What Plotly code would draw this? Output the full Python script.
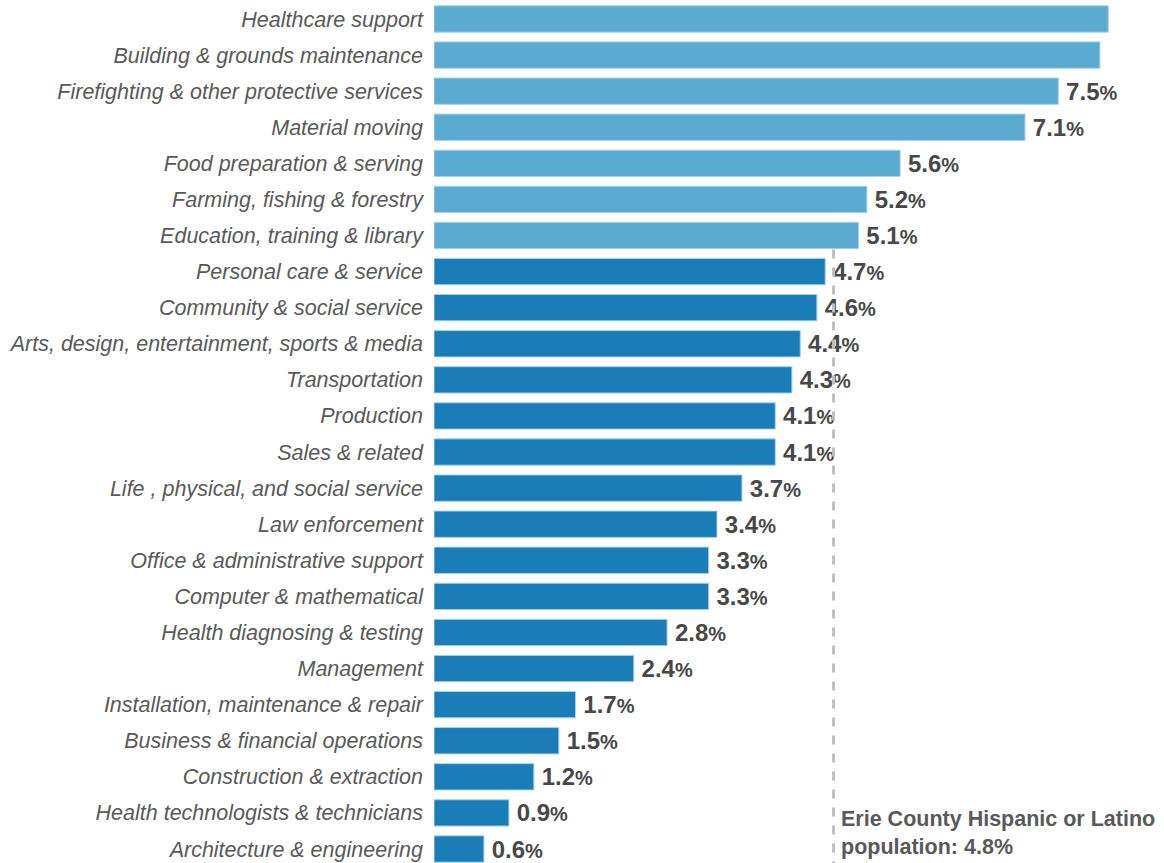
import plotly.graph_objects as go

categories = [
    "Healthcare support", "Building & grounds maintenance",
    "Firefighting & other protective services", "Material moving",
    "Food preparation & serving", "Farming, fishing & forestry",
    "Education, training & library", "Personal care & service",
    "Community & social service", "Arts, design, entertainment, sports & media",
    "Transportation", "Production", "Sales & related",
    "Life , physical, and social service", "Law enforcement",
    "Office & administrative support", "Computer & mathematical",
    "Health diagnosing & testing", "Management",
    "Installation, maintenance & repair", "Business & financial operations",
    "Construction & extraction", "Health technologists & technicians",
    "Architecture & engineering",
]
values = [8.1, 8.0, 7.5, 7.1, 5.6, 5.2, 5.1, 4.7, 4.6, 4.4, 4.3, 4.1, 4.1,
          3.7, 3.4, 3.3, 3.3, 2.8, 2.4, 1.7, 1.5, 1.2, 0.9, 0.6]
show_label = [False, False] + [True] * 22
county_share = 4.8

LIGHT = "#5BAAD1"
DARK = "#1A7DB8"
colors = [LIGHT if v > county_share else DARK for v in values]
labels = [
    (f"\u2009<b>{v:.1f}</b><span style='font-size:20px'><b>%</b></span>" if s else "")
    for v, s in zip(values, show_label)
]

fig = go.Figure(go.Bar(
    x=values, y=categories, orientation="h",
    marker=dict(color=colors, line=dict(color="#A8D2EA", width=1)),
    text=labels, textposition="outside", constraintext="none",
    textfont=dict(family="Liberation Sans, Arial", size=24, color="#484848"),
    cliponaxis=False, hoverinfo="skip",
))

fig.add_shape(type="line", xref="x", yref="y",
              x0=county_share, x1=county_share, y0=6.39, y1=23.6,
              line=dict(color="#BFBFBF", width=3, dash="dash"))

fig.add_annotation(
    x=county_share, y=22.55, xref="x", yref="y", xanchor="left", yanchor="middle",
    xshift=5, align="left", showarrow=False,
    text="<b>Erie County Hispanic or Latino<br>population: 4.8%</b>",
    font=dict(family="Liberation Sans, Arial", size=21.5, color="#595959"),
)

fig.update_layout(
    width=1164, height=863,
    margin=dict(l=434, r=0, t=0, b=0),
    plot_bgcolor="white", paper_bgcolor="white",
    bargap=0.27, showlegend=False,
    xaxis=dict(range=[0, 8.77], visible=False, fixedrange=True),
    yaxis=dict(range=[23.388, -0.526], showgrid=False, zeroline=False, ticks="",
               showline=False, ticklabelstandoff=10, fixedrange=True,
               tickfont=dict(family="Liberation Sans, Arial", size=21.5, color="#595959",
                             style="italic")),
)

fig.write_html(
    "out.html",
    config={"displayModeBar": False, "staticPlot": True},
    post_script="document.body.style.margin='0';document.body.style.overflow='hidden';",
)
